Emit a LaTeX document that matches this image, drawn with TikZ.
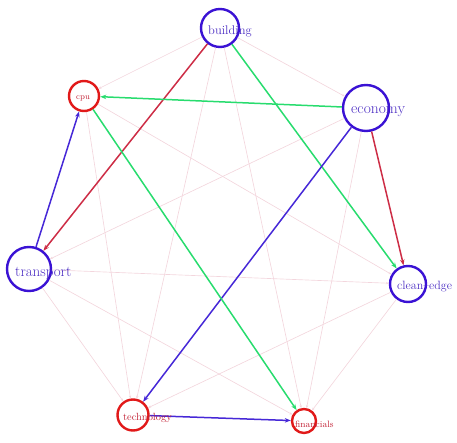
\documentclass[tikz,border=0pt]{standalone}
\usetikzlibrary{arrows.meta}
\definecolor{nblue}{RGB}{58,18,212}
\definecolor{tblue}{RGB}{75,45,195}
\definecolor{nred}{RGB}{225,25,25}
\definecolor{tred}{RGB}{195,35,55}
\definecolor{egreen}{RGB}{40,220,110}
\definecolor{ered}{RGB}{205,45,70}
\definecolor{eblue}{RGB}{70,40,215}
\definecolor{epink}{RGB}{243,214,221}
\begin{document}
\begin{tikzpicture}[x=1pt,y=-1pt,
  bnode/.style={circle,draw=nblue,line width=2.4pt,inner sep=0pt,minimum size=#1},
  rnode/.style={circle,draw=nred,line width=2.4pt,inner sep=0pt,minimum size=#1},
  lab/.style={anchor=west,inner sep=0pt},
  faint/.style={draw=epink,line width=0.65pt,-{Stealth[length=3pt,width=2.4pt]}},
  strong/.style={line width=1.5pt,-{Stealth[length=6pt,width=4.5pt]}}]
\useasboundingbox (0,0) rectangle (457,443);
% nodes
\node[bnode=38pt] (building) at (220,28) {};
\node[rnode=30pt] (cpu) at (84,96) {};
\node[bnode=46pt] (economy) at (366,108) {};
\node[bnode=44pt] (transport) at (29,269) {};
\node[bnode=36pt] (clean) at (408,284) {};
\node[rnode=31pt] (technology) at (133,415) {};
\node[rnode=24pt] (financials) at (304,421) {};
% faint edges
\draw[faint] (building) -- (cpu);
\draw[faint] (building) -- (economy);
\draw[faint] (building) -- (technology);
\draw[faint] (building) -- (financials);
\draw[faint] (cpu) -- (technology);
\draw[faint] (cpu) -- (clean);
\draw[faint] (economy) -- (transport);
\draw[faint] (economy) -- (financials);
\draw[faint] (transport) -- (clean);
\draw[faint] (transport) -- (technology);
\draw[faint] (transport) -- (financials);
\draw[faint] (clean) -- (technology);
\draw[faint] (clean) -- (financials);
% strong edges
\draw[strong,draw=ered,color=ered] (building) -- (transport);
\draw[strong,draw=egreen,color=egreen] (building) -- (clean);
\draw[strong,draw=egreen,color=egreen] (economy) -- (cpu);
\draw[strong,draw=ered,color=ered] (economy) -- (clean);
\draw[strong,draw=eblue,color=eblue] (economy) -- (technology);
\draw[strong,draw=eblue,color=eblue] (transport) -- (cpu);
\draw[strong,draw=egreen,color=egreen] (cpu) -- (financials);
\draw[strong,draw=eblue,color=eblue] (technology) -- (financials);
% labels
\node[lab,text=tblue,font=\fontsize{12.5}{14}\selectfont] (building-l) at (208,31) {building};
\node[lab,text=tred,font=\fontsize{8.3}{10}\selectfont] (cpu-l) at (76,98) {cpu};
\node[lab,text=tblue,font=\fontsize{15.5}{18}\selectfont] (economy-l) at (351,112) {economy};
\node[lab,text=tblue,font=\fontsize{15}{18}\selectfont] (transport-l) at (15,273) {transport};
\node[lab,text=tblue,font=\fontsize{12}{14}\selectfont] (clean-l) at (397,287) {clean--edge};
\node[lab,text=tred,font=\fontsize{10.4}{12}\selectfont] (technology-l) at (123,418) {technology};
\node[lab,text=tred,font=\fontsize{9.2}{11}\selectfont] (financials-l) at (295,424) {financials};
\end{tikzpicture}
\end{document}
